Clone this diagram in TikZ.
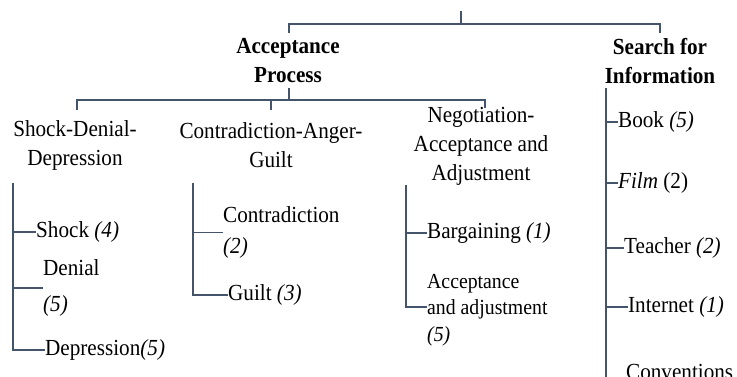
\documentclass[tikz,border=0pt]{standalone}
\usepackage{fontspec}
\setmainfont{Liberation Serif}
\definecolor{linkcol}{HTML}{44546A}
\tikzset{
  branch/.style={draw=linkcol, line width=1.3pt},
  lbl/.style={inner sep=0pt, font=\fontsize{23}{29}\selectfont, xscale=0.92, transform shape, text=black},
  head/.style={lbl, align=center, font=\fontsize{23}{29}\selectfont\bfseries},
  cat/.style={lbl, align=center},
  leaf/.style={lbl, anchor=west, align=left},
}
\begin{document}
\begin{tikzpicture}[x=1pt,y=1pt]
\useasboundingbox (0,0) rectangle (737,-376);
\clip (0,0) rectangle (737,-376);

% headings
\node[head] (acc) at (288,-60.5) {Acceptance\\Process};
\node[head] (search) at (660,-61) {Search for\\Information};

% stage groups
\node[cat] (sdd) at (75,-145.5) {Shock-Denial-\\Depression};
\node[cat] (cag) at (271,-145.5) {Contradiction-Anger-\\Guilt};
\node[cat] (neg) at (481,-146) {Negotiation-\\Acceptance and\\Adjustment};

% leaves of each stage
\node[leaf] (shock) at (36,-232) {Shock \textit{(4)}};
\node[leaf] (denial) at (43,-288) {Denial\\[7pt]\textit{(5)}};
\node[leaf] (depr) at (45,-350) {Depression\textit{(5)}};
\node[leaf] (contra) at (223,-232.5) {Contradiction\\[2pt]\textit{(2)}};
\node[leaf] (guilt) at (228,-295) {Guilt \textit{(3)}};
\node[leaf] (barg) at (427,-233) {Bargaining \textit{(1)}};
\node[leaf, font=\fontsize{21.5}{26.5}\selectfont] (accadj) at (427,-310) {Acceptance\\and adjustment\\\textit{(5)}};

% information sources
\node[leaf] (book) at (618,-122) {Book \textit{(5)}};
\node[leaf] (film) at (618,-183) {\textit{Film} (2)};
\node[leaf] (teach) at (624,-248) {Teacher \textit{(2)}};
\node[leaf] (inet) at (628,-307) {Internet \textit{(1)}};
\node[leaf, anchor=base west] (conv) at (626,-379) {Conventions};

% connector junctions
\coordinate (root) at (461,-11);
\coordinate (topbar) at (461,-24);
\coordinate (accin) at (289,-33);
\coordinate (searchin) at (660,-33);
\coordinate (accout) at (289,-88);
\coordinate (midbar) at (289,-100);
\coordinate (sddin) at (77,-110);
\coordinate (cagin) at (271,-110);
\coordinate (negin) at (485,-108);
\coordinate (sddspine) at (13,-183);
\coordinate (cagspine) at (193,-183);
\coordinate (negspine) at (406,-185);
\coordinate (srchspine) at (606,-88);
\coordinate (srchend) at (606,-380);

% top level
\draw[branch] (root) -- (topbar);
\draw[branch] (accin) |- (topbar) -| (searchin);

% acceptance process to its stages
\draw[branch] (accout) -- (midbar);
\draw[branch] (sddin) |- (midbar) -| (negin);
\draw[branch] (cagin) -- (cagin |- midbar);

% stage spines and ticks
\draw[branch] (sddspine) |- (depr.west);
\draw[branch] (sddspine |- shock.west) -- (shock.west);
\draw[branch] (sddspine |- denial.west) -- (denial.west);

\draw[branch] (cagspine) |- (guilt.west);
\draw[branch] (cagspine |- contra.west) -- (contra.west);

\draw[branch] (negspine) |- ([yshift=3pt]accadj.west);
\draw[branch] (negspine |- barg.west) -- (barg.west);

% information spine and ticks
\draw[branch] (srchspine) -- (srchend);
\draw[branch] (srchspine |- book.west) -- (book.west);
\draw[branch] (srchspine |- film.west) -- (film.west);
\draw[branch] (srchspine |- teach.west) -- (teach.west);
\draw[branch] (srchspine |- inet.west) -- (inet.west);
\end{tikzpicture}
\end{document}
